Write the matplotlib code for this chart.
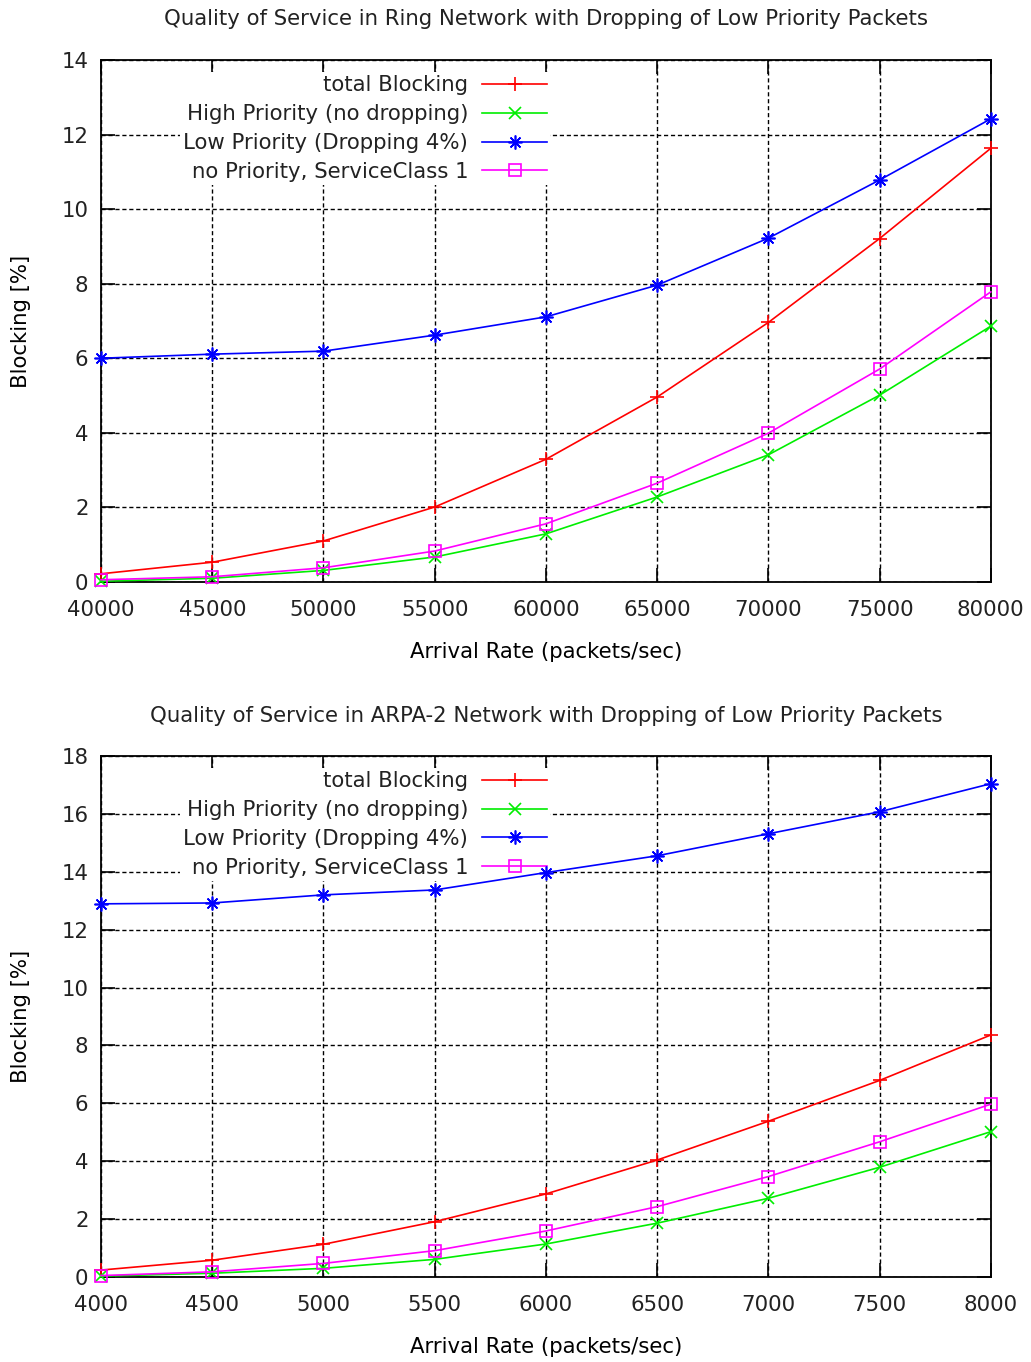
import numpy as np
import matplotlib.pyplot as plt

# Ring network (top)
ring_rate = [40000, 45000, 50000, 55000, 60000, 65000, 70000, 75000, 80000]
ring_total = [0.22, 0.53, 1.10, 2.01, 3.29, 4.96, 6.96, 9.21, 11.63]
ring_high = [0.02, 0.10, 0.31, 0.67, 1.29, 2.28, 3.41, 5.01, 6.86]
ring_low = [6.00, 6.11, 6.19, 6.62, 7.11, 7.96, 9.22, 10.78, 12.42]
ring_nopri = [0.06, 0.14, 0.38, 0.83, 1.56, 2.65, 3.99, 5.71, 7.78]

# ARPA-2 network (bottom)
arpa_rate = [4000, 4500, 5000, 5500, 6000, 6500, 7000, 7500, 8000]
arpa_total = [0.24, 0.58, 1.13, 1.91, 2.87, 4.04, 5.38, 6.79, 8.36]
arpa_high = [0.03, 0.13, 0.30, 0.61, 1.14, 1.86, 2.72, 3.79, 5.02]
arpa_low = [12.89, 12.92, 13.20, 13.37, 13.97, 14.55, 15.31, 16.07, 17.04]
arpa_nopri = [0.05, 0.18, 0.47, 0.91, 1.59, 2.43, 3.47, 4.67, 5.97]

labels = ['total Blocking', 'High Priority (no dropping)',
          'Low Priority (Dropping 4%)', 'no Priority, ServiceClass 1']

fs = 15.3
plt.rcParams['font.family'] = 'DejaVu Sans'
plt.rcParams['font.size'] = fs
plt.rcParams['text.color'] = '#222222'

fig = plt.figure(figsize=(10.31, 13.62), dpi=100)
ax1 = fig.add_axes([0.098, 0.5727, 0.863, 0.3833])
ax2 = fig.add_axes([0.098, 0.0624, 0.863, 0.3826])


def draw(ax, x, total, high, low, nopri, title, ymax, xstep):
    kw = dict(lw=1.2, clip_on=False, zorder=3)
    ax.plot(x, total, color='#ff0000', marker='+', ms=10, mew=1.2, label=labels[0], **kw)
    ax.plot(x, high, color='#00ee00', marker='x', ms=8, mew=1.2, label=labels[1], **kw)
    ax.plot(x, low, color='#0000ff', marker=(8, 2, 0), ms=10, mew=1.2, label=labels[2], **kw)
    ax.plot(x, nopri, color='#ff00ff', marker='s', ms=8, mfc='none', mew=1.2, label=labels[3], **kw)
    ax.set_xlim(x[0], x[-1])
    ax.set_ylim(0, ymax)
    ax.set_xticks(np.arange(x[0], x[-1] + 1, xstep))
    ax.set_yticks(np.arange(0, ymax + 1, 2))
    ax.set_axisbelow(True)
    ax.grid(True, color='black', lw=1.0, linestyle=(0, (3, 2)))
    ax.tick_params(direction='in', length=10, width=1.2, top=True, right=True,
                   labelsize=fs, labelcolor='#222222')
    ax.tick_params(axis='x', pad=13)
    ax.tick_params(axis='y', pad=9)
    for s in ax.spines.values():
        s.set_linewidth(1.3)
    ax.set_title(title, fontsize=fs, y=1.066, pad=0)
    ax.set_xlabel('Arrival Rate (packets/sec)', fontsize=fs, labelpad=16)
    ax.set_ylabel('Blocking [%]', fontsize=fs, labelpad=22)
    leg = ax.legend(loc='upper right', bbox_to_anchor=(0.505, 0.977), markerfirst=False,
                    frameon=True, framealpha=1, edgecolor='none', facecolor='white',
                    fancybox=False, borderpad=0.15, handlelength=3.05, handletextpad=0.67,
                    labelspacing=0.42, borderaxespad=0, fontsize=fs)
    leg.set_zorder(2.5)


draw(ax1, ring_rate, ring_total, ring_high, ring_low, ring_nopri,
     'Quality of Service in Ring Network with Dropping of Low Priority Packets', 14, 5000)
draw(ax2, arpa_rate, arpa_total, arpa_high, arpa_low, arpa_nopri,
     'Quality of Service in ARPA-2 Network with Dropping of Low Priority Packets', 18, 500)

fig.savefig('out.png', dpi=100)
